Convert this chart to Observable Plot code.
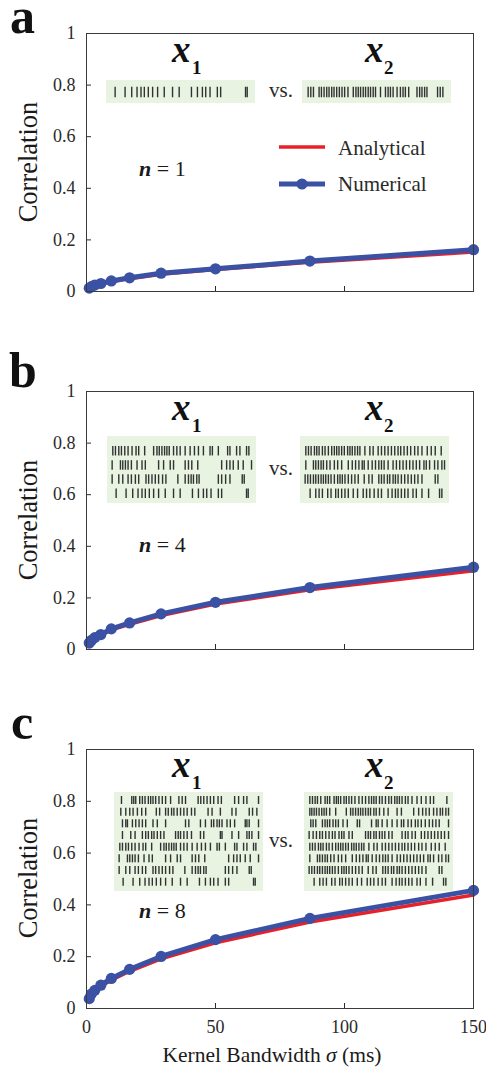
<!DOCTYPE html>
<html><head><meta charset="utf-8">
<script src="https://cdn.jsdelivr.net/npm/d3@7"></script>
<script src="https://cdn.jsdelivr.net/npm/@observablehq/plot@0.6"></script>
<style>
body{margin:0;background:#fff}
#fig{position:relative;width:486px;height:1069px;overflow:hidden;font-family:'Liberation Serif','DejaVu Serif',serif}
#fig > svg{position:absolute}
#fig text{font-family:'Liberation Serif','DejaVu Serif',serif}
</style></head><body><div id="fig"></div>
<script>
// ---- data ----
const sigma = [1.07, 1.85, 3.21, 5.56, 9.62, 16.7, 28.9, 50, 86.6, 150];
const analyticalA = [0.012, 0.017, 0.023, 0.030, 0.038, 0.050, 0.067, 0.085, 0.114, 0.153];
const numericalA  = [0.013, 0.019, 0.025, 0.031, 0.041, 0.053, 0.071, 0.088, 0.118, 0.162];
const analyticalB = [0.024, 0.033, 0.044, 0.055, 0.076, 0.098, 0.132, 0.176, 0.232, 0.305];
const numericalB  = [0.025, 0.035, 0.046, 0.058, 0.080, 0.103, 0.138, 0.183, 0.240, 0.319];
const analyticalC = [0.036, 0.052, 0.066, 0.085, 0.110, 0.144, 0.192, 0.254, 0.334, 0.438];
const numericalC  = [0.038, 0.056, 0.070, 0.090, 0.116, 0.151, 0.201, 0.266, 0.348, 0.456];
const yTicks = [0, 0.2, 0.4, 0.6, 0.8, 1];
const yTickLabels = ["0", "0.2", "0.4", "0.6", "0.8", "1"];
const xTicks = [0, 50, 100, 150];
const xTickLabels = ["0", "50", "100", "150"];
const seriesNames = ["Analytical", "Numerical"];
const nValues = [1, 4, 8];
// spike trains (time units across the raster window)
const spikesX1 = [
 [27,58,64,70,82,90,98,108,115,122,130,140,150,160,175,200,210,220,258,266,275,285,295,305,318,328,368,380,395,405,440],
 [25,40,52,62,75,88,100,132,142,160,168,178,185,195,205,215,225,238,248,288,300,325,360,372,412,422,435],
 [30,40,45,60,70,80,90,100,122,135,160,220,230,265,280,298,305,315,322,330,345,355,368,400,405,412,440],
 [30,55,68,90,100,108,118,125,135,145,155,190,198,205,215,225,238,265,275,325,330,360,380,405,412,420,440],
 [22,30,40,48,58,68,80,92,100,118,145,155,162,170,178,185,192,205,215,225,240,255,268,280,295,315,322,340,368,375,395,405,425,432],
 [20,45,52,60,68,78,95,110,120,160,175,195,205,240,250,260,278,350,365,375,385,400,415,440],
 [20,40,52,68,78,90,100,122,130,140,150,160,172,182,218,240,250,258,265,275,282,340,350,362,375,412,418],
 [32,62,82,98,110,120,132,145,160,180,205,225,262,280,295,305,318,340,350,425,430]
];
const spikesX2 = [
 [22,30,38,45,55,68,75,82,95,102,108,115,125,132,140,148,158,170,180,190,200,208,215,222,232,240,250,260,268,278,285,292,300,310,318,330,345,358,372,385,395,435],
 [22,28,35,42,50,58,65,72,82,100,132,145,152,160,168,175,182,190,198,205,215,222,232,245,258,285,298,335,350,362,372,382,395,405,415,422,432,440],
 [25,32,40,60,68,75,82,92,100,108,122,135,165,172,208,222,228,240,255,270,285,298,305,318,328,340,348,358,370,382,392,402,412,440],
 [20,32,42,52,60,70,80,90,98,110,118,125,140,150,190,198,205,215,222,232,240,248,260,270,300,310,318,330,340,358,368,378,388,398,408,418,428,440],
 [22,30,38,48,55,62,72,80,90,100,108,115,122,130,138,148,155,162,170,178,185,200,215,225,240,250,260,270,280,290,300,308,318,328,338,350,360,372,388,400,412,430],
 [22,45,52,60,68,75,85,95,108,118,130,150,162,172,182,192,198,210,222,232,242,250,258,270,285,295,305,315,325,335,345,355,365,378,385,395,410,420,432,440],
 [20,28,36,45,52,60,68,75,82,90,98,108,118,125,132,140,150,160,170,180,198,212,222,242,250,258,268,275,285,292,300,310,320,330,340,350,360,372,412,420],
 [35,52,62,72,88,98,112,120,130,140,150,165,178,195,205,215,228,240,250,270,282,292,300,310,320,330,345,355,372,392,425,432]
];
const spikesX2single = [23,31,39,56,63,71,79,86,94,101,109,117,125,133,143,159,167,174,181,189,196,204,211,219,226,241,256,264,271,279,291,301,309,316,326,351,359,366,374,381,413,421,429];

// ---- style constants ----
const FONT = "'Liberation Serif','DejaVu Serif',serif";
const RED = "#e8202a", BLUE = "#3a51a4", GREEN = "#e8f3e2";
const fig = document.getElementById("fig");

function place(node, left, top) {
  node.style.position = "absolute";
  node.style.left = left + "px";
  node.style.top = top + "px";
  fig.appendChild(node);
}

function mainPanel(analytical, numerical, o) {
  const rows = sigma.map((s, i) => ({s, a: analytical[i], n: numerical[i]}));
  return Plot.plot({
    width: 486, height: o.height,
    marginLeft: 86, marginRight: 13, marginTop: o.mt, marginBottom: o.mb,
    style: {fontFamily: FONT, fontSize: "18px", color: "#2a2a2a", background: "transparent", overflow: "visible"},
    x: {domain: [0, 150]},
    y: {domain: [0, 1]},
    marks: [
      Plot.axisY(yTicks, {tickSize: -5, tickPadding: 16, tickFormat: d => yTickLabels[yTicks.indexOf(d)], label: null}),
      Plot.axisX(xTicks, {tickSize: -5, tickPadding: 17, tickFormat: o.xlabels ? (d => xTickLabels[xTicks.indexOf(d)]) : (() => ""), label: null}),
      Plot.line(rows, {x: "s", y: "a", stroke: RED, strokeWidth: 3.6}),
      Plot.line(rows, {x: "s", y: "n", stroke: BLUE, strokeWidth: 5}),
      Plot.dot(rows, {x: "s", y: "n", r: 5.6, fill: BLUE, stroke: null}),
      Plot.frame({stroke: "#3a3a3a", strokeWidth: 1})
    ]
  });
}

function raster(rows, o) {
  const data = rows.flatMap((r, i) => r.map(t => ({t, row: i})));
  const n = rows.length;
  const p = 1 - o.tickLen / o.step;
  return Plot.plot({
    width: o.width, height: o.height, margin: 0,
    style: {background: GREEN, overflow: "hidden"},
    x: {domain: [6, 455], axis: null},
    y: {type: "band", domain: d3.range(n), range: [o.first - o.step / 2, o.first - o.step / 2 + n * o.step],
        paddingInner: p, paddingOuter: p / 2, align: 0.5, round: false, axis: null},
    marks: [Plot.tickX(data, {x: "t", y: "row", stroke: "#1e1e1e", strokeWidth: 1.4, strokeOpacity: 0.9})]
  });
}

// main panels
place(mainPanel(analyticalA, numericalA, {height: 310, mt: 33, mb: 19, xlabels: false}), 0, 0);
place(mainPanel(analyticalB, numericalB, {height: 330, mt: 61, mb: 11, xlabels: false}), 0, 330);
place(mainPanel(analyticalC, numericalC, {height: 369, mt: 49, mb: 61, xlabels: true}), 0, 700);

// rasters
place(raster([spikesX1[7]], {width: 149, height: 23, first: 12, step: 20, tickLen: 10.5}), 106, 79.5);
place(raster([spikesX2single], {width: 149, height: 23, first: 12, step: 20, tickLen: 10.5}), 302, 79.5);
place(raster(spikesX1.slice(4), {width: 149, height: 67, first: 14.7, step: 14.2, tickLen: 9.5}), 107, 436);
place(raster(spikesX2.slice(4), {width: 149, height: 67, first: 14.7, step: 14.2, tickLen: 9.5}), 300, 436);
place(raster(spikesX1, {width: 149, height: 99, first: 8, step: 11.67, tickLen: 8}), 114, 792);
place(raster(spikesX2, {width: 149, height: 99, first: 8, step: 11.67, tickLen: 8}), 304, 792);

// annotation overlay
const svg = d3.create("svg").attr("width", 486).attr("height", 1069)
  .style("position", "absolute").style("left", 0).style("top", 0)
  .attr("font-family", FONT).style("pointer-events", "none");
const T = (x, y, txt, size, extra = {}) => {
  const t = svg.append("text").attr("x", x).attr("y", y).attr("font-size", size).attr("fill", extra.fill || "#1a1a1a").text(txt);
  if (extra.weight) t.attr("font-weight", extra.weight);
  if (extra.style) t.attr("font-style", extra.style);
  if (extra.anchor) t.attr("text-anchor", extra.anchor);
  return t;
};
const letters = ["a", "b", "c"];
const letterPos = [[10, 33], [9, 387], [11, 739]];
letters.forEach((l, i) => T(letterPos[i][0], letterPos[i][1], l, 50, {weight: "bold", fill: "#111"}));

const xBase = [62, 420, 777];
const vsBase = [97, 475, 847];
const nBase = [176, 552, 918];
const corrCenter = [162, 520, 878];
for (let i = 0; i < 3; i++) {
  T(172, xBase[i], "x", 37, {weight: "bold", style: "italic", fill: "#111"});
  T(192, xBase[i] + 12, "1", 19, {weight: "bold", fill: "#111"});
  T(365, xBase[i], "x", 37, {weight: "bold", style: "italic", fill: "#111"});
  T(384, xBase[i] + 12, "2", 19, {weight: "bold", fill: "#111"});
  T(269, vsBase[i], "vs.", 21, {fill: "#2a2a2a"});
  const nt = svg.append("text").attr("x", 139).attr("y", nBase[i]).attr("font-size", 22).attr("fill", "#1a1a1a");
  nt.append("tspan").attr("font-weight", "bold").attr("font-style", "italic").text("n");
  nt.append("tspan").text(" = " + nValues[i]);
  svg.append("text").attr("transform", `translate(37,${corrCenter[i]}) rotate(-90)`)
    .attr("text-anchor", "middle").attr("font-size", 26.5).attr("fill", "#1a1a1a").text("Correlation");
}
// x axis title
const xt = svg.append("text").attr("x", 272).attr("y", 1062).attr("text-anchor", "middle").attr("font-size", 21.5).attr("fill", "#1a1a1a");
xt.append("tspan").text("Kernel Bandwidth ");
xt.append("tspan").attr("font-style", "italic").text("σ");
xt.append("tspan").text(" (ms)");

// legend (panel a)
svg.append("line").attr("x1", 279).attr("x2", 325).attr("y1", 147).attr("y2", 147).attr("stroke", RED).attr("stroke-width", 3.6);
svg.append("line").attr("x1", 279).attr("x2", 325).attr("y1", 184).attr("y2", 184).attr("stroke", BLUE).attr("stroke-width", 5);
svg.append("circle").attr("cx", 302).attr("cy", 184).attr("r", 5.6).attr("fill", BLUE);
T(338, 155, seriesNames[0], 21, {fill: "#2a2a2a"});
T(338, 191, seriesNames[1], 21, {fill: "#2a2a2a"});

fig.appendChild(svg.node());
</script></body></html>
